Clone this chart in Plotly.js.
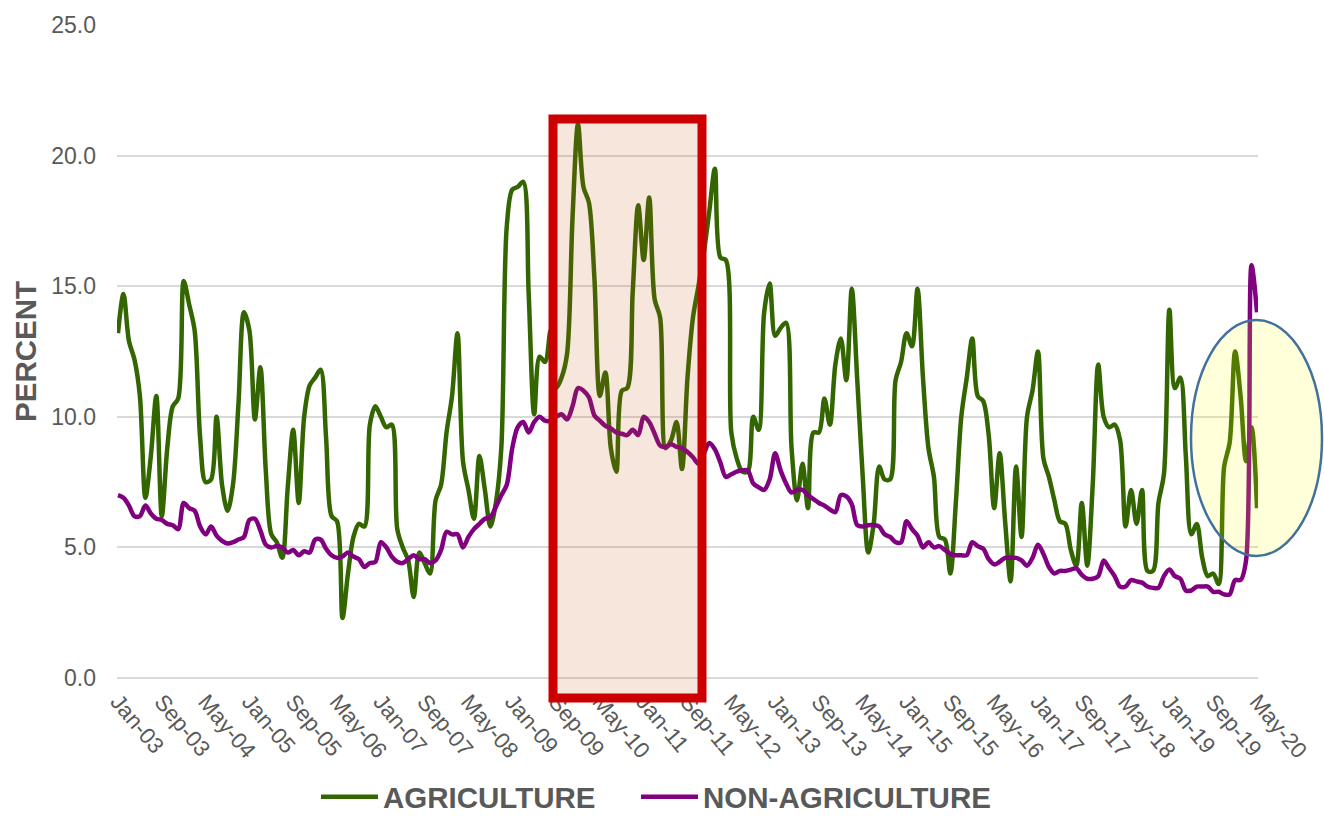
<!DOCTYPE html>
<html>
<head>
<meta charset="utf-8">
<script src="https://cdn.plot.ly/plotly-3.0.1.min.js"></script>
<style>
html,body{margin:0;padding:0;background:#ffffff;}
#chart{width:1324px;height:823px;}
</style>
</head>
<body>
<div id="chart"></div>
<script>
// ---- categories (monthly, Jan-03 .. May-20) ----
const monthNames = ['Jan','Feb','Mar','Apr','May','Jun','Jul','Aug','Sep','Oct','Nov','Dec'];
const firstYear = 2003, lastYear = 2020, lastMonthCount = 5;
const months = [];
for (let y = firstYear; y <= lastYear; y++) {
  const n = (y === lastYear) ? lastMonthCount : 12;
  for (let m = 0; m < n; m++) months.push(monthNames[m] + '-' + String(y % 100).padStart(2, '0'));
}

// ---- series values (percent) ----
const agriculture = [
  13.2, 14.7, 12.9, 12.2, 10.8, 6.9, 8.5, 10.8, 6.2, 8.8,
  10.4, 10.7, 15.2, 14.3, 13.3, 9.2, 7.5, 7.6, 10.0, 7.4,
  6.4, 7.4, 10.5, 14.0, 13.3, 9.9, 11.9, 7.9, 5.5, 5.2,
  4.6, 7.3, 9.5, 6.7, 10.0, 11.2, 11.5, 11.8, 9.2, 6.2,
  6.0, 2.3, 4.0, 5.4, 5.9, 5.8, 9.7, 10.4, 10.0, 9.6,
  9.7, 5.7, 5.0, 4.5, 3.1, 4.8, 4.4, 4.0, 6.8, 7.4,
  9.4, 10.8, 13.2, 8.3, 7.2, 6.1, 8.5, 7.2, 5.8, 6.7,
  8.8, 17.3, 18.7, 18.8, 19.0, 14.7, 10.1, 12.3, 12.1, 13.3,
  11.1, 11.5, 12.4, 17.6, 21.2, 18.8, 18.2, 15.3, 10.8, 11.7,
  8.8, 7.9, 11.0, 11.1, 14.8, 18.1, 16.0, 18.4, 14.5, 13.8,
  8.8, 9.1, 9.8, 8.0, 11.5, 13.8, 15.0, 16.3, 17.9, 19.5,
  16.1, 16.0, 9.4, 8.4, 7.9, 7.9, 10.0, 9.5, 14.0, 15.1,
  13.1, 13.4, 13.6, 8.8, 6.8, 8.2, 6.5, 9.4, 9.4, 10.7,
  9.7, 12.0, 13.0, 11.4, 14.9, 11.4, 7.7, 4.8, 5.9, 8.1,
  7.6, 7.6, 11.4, 12.1, 13.2, 12.7, 14.9, 11.5, 8.8, 7.7,
  5.4, 5.3, 4.0, 6.7, 10.0, 11.5, 13.0, 10.8, 10.6, 9.3,
  6.5, 8.6, 6.0, 3.7, 8.1, 5.4, 10.0, 11.0, 12.5, 8.4,
  7.7, 6.8, 6.0, 5.9, 4.9, 4.3, 6.7, 4.3, 7.4, 12.0,
  10.0, 9.6, 9.7, 9.1, 5.8, 7.2, 5.9, 7.2, 4.1, 4.1,
  6.7, 7.8, 14.1, 11.1, 11.5, 8.5, 5.5, 5.9, 4.6, 3.9,
  4.0, 3.6, 8.1, 9.0, 12.5, 10.8, 8.3, 9.6, 6.5
];
const nonAgriculture = [
  7.0, 6.9, 6.6, 6.2, 6.2, 6.6, 6.3, 6.1, 6.05, 5.9,
  5.85, 5.7, 6.7, 6.5, 6.4, 5.8, 5.5, 5.8, 5.45, 5.25,
  5.15, 5.2, 5.3, 5.4, 6.05, 6.1, 5.65, 5.1, 5.0, 5.05,
  5.0, 4.8, 4.9, 4.7, 4.85, 4.8, 5.3, 5.3, 4.95, 4.7,
  4.6, 4.65, 4.8, 4.65, 4.55, 4.25, 4.4, 4.45, 5.2, 5.0,
  4.65, 4.45, 4.4, 4.55, 4.7, 4.55, 4.55, 4.4, 4.5, 4.9,
  5.6, 5.5, 5.5, 5.0, 5.4, 5.7, 5.9, 6.1, 6.15, 6.55,
  7.0, 7.4, 8.8, 9.6, 9.8, 9.4, 9.8, 10.0, 9.85, 9.85,
  10.0, 10.1, 9.9, 10.4, 11.1, 11.0, 10.75, 10.05, 9.85, 9.65,
  9.55, 9.4, 9.35, 9.3, 9.5, 9.3, 10.0, 9.8, 9.35, 8.9,
  8.85, 8.95, 8.85, 8.8, 8.65, 8.45, 8.2, 8.6, 9.0, 8.75,
  8.25, 7.7, 7.8, 7.9, 7.95, 7.95, 7.45, 7.3, 7.2, 7.6,
  8.6, 7.95, 7.45, 7.1, 7.2, 7.2, 7.0, 6.85, 6.7, 6.6,
  6.45, 6.35, 7.0, 6.95, 6.65, 5.85, 5.8, 5.85, 5.85, 5.8,
  5.5, 5.4, 5.2, 5.2, 6.0, 5.7, 5.45, 5.0, 5.2, 5.0,
  5.05, 4.9, 4.75, 4.7, 4.7, 4.7, 5.2, 5.05, 4.95, 4.55,
  4.35, 4.45, 4.6, 4.6, 4.6, 4.5, 4.3, 4.6, 5.1, 4.75,
  4.25, 4.0, 4.1, 4.1, 4.15, 4.2, 3.95, 3.8, 3.8, 3.9,
  4.5, 4.2, 3.9, 3.5, 3.5, 3.75, 3.7, 3.65, 3.5, 3.45,
  3.45, 3.9, 4.15, 3.9, 3.8, 3.35, 3.35, 3.5, 3.5, 3.5,
  3.3, 3.3, 3.2, 3.2, 3.75, 3.75, 4.5, 15.8, 14.0
];

// ---- tick labels (every 8th month) ----
const tickLabels = months.filter((_, i) => i % 8 === 0);
const yTicks = [0, 5, 10, 15, 20, 25];

// ---- layout geometry (pixels) ----
const W = 1324, H = 823;
const M = {l: 117, r: 66, t: 25, b: 145};
const PW = W - M.l - M.r, PH = H - M.t - M.b;
const px = x => (x - M.l) / PW;          // pixel -> paper x
const py = y => (H - M.b - y) / PH;      // pixel -> paper y

const FONT = '"Liberation Sans", Arial, sans-serif';
const GREY = '#595959';
const legendFont = {family: FONT, size: 29.5, color: GREY, weight: 'bold'};

const traces = [
  {
    x: months, y: agriculture, name: 'AGRICULTURE', type: 'scatter', mode: 'lines',
    legend: 'legend',
    line: {color: '#336600', width: 4.5, shape: 'spline', smoothing: 0.9}
  },
  {
    x: months, y: nonAgriculture, name: 'NON-AGRICULTURE', type: 'scatter', mode: 'lines',
    legend: 'legend2',
    line: {color: '#800080', width: 4.5, shape: 'spline', smoothing: 0.9}
  }
];

const layout = {
  width: W, height: H,
  margin: M,
  paper_bgcolor: '#ffffff', plot_bgcolor: '#ffffff',
  font: {family: FONT, color: GREY},
  showlegend: true,
  legend: {
    orientation: 'h', xref: 'container', yref: 'container',
    x: 316 / W, xanchor: 'left', y: -7 / H, yanchor: 'bottom',
    font: legendFont, itemwidth: 57, bgcolor: 'rgba(0,0,0,0)'
  },
  legend2: {
    orientation: 'h', xref: 'container', yref: 'container',
    x: 636 / W, xanchor: 'left', y: -7 / H, yanchor: 'bottom',
    font: legendFont, itemwidth: 57, bgcolor: 'rgba(0,0,0,0)'
  },
  xaxis: {
    type: 'category',
    range: [-0.18, months.length - 1 + 0.18],
    tickmode: 'array', tickvals: tickLabels, ticktext: tickLabels,
    tickangle: 50,
    tickfont: {family: FONT, size: 22.5, color: GREY},
    showgrid: false, zeroline: false, showline: false, ticks: '',
    ticklabelstandoff: 5
  },
  yaxis: {
    range: [0, 25], tickmode: 'array', tickvals: yTicks,
    tickformat: '.1f',
    tickfont: {family: FONT, size: 23, color: GREY},
    showgrid: true, gridcolor: '#D9D9D9', gridwidth: 1.5,
    zeroline: true, zerolinecolor: '#D9D9D9', zerolinewidth: 1.5,
    showline: false, ticks: '',
    ticklabelstandoff: 20,
    title: {text: 'PERCENT', font: {family: FONT, size: 29.5, color: GREY, weight: 'bold'}, standoff: 5}
  },
  shapes: [
    {
      type: 'rect', xref: 'paper', yref: 'paper', layer: 'above',
      x0: px(553), x1: px(702), y0: py(698), y1: py(119),
      fillcolor: 'rgba(197,90,17,0.15)',
      line: {color: '#CC0000', width: 9}
    },
    {
      type: 'circle', xref: 'paper', yref: 'paper', layer: 'above',
      x0: px(1191), x1: px(1322), y0: py(556), y1: py(320),
      fillcolor: 'rgba(255,255,0,0.15)',
      line: {color: '#41719C', width: 2.5}
    }
  ]
};

Plotly.newPlot('chart', traces, layout, {displayModeBar: false, responsive: false});
</script>
</body>
</html>
